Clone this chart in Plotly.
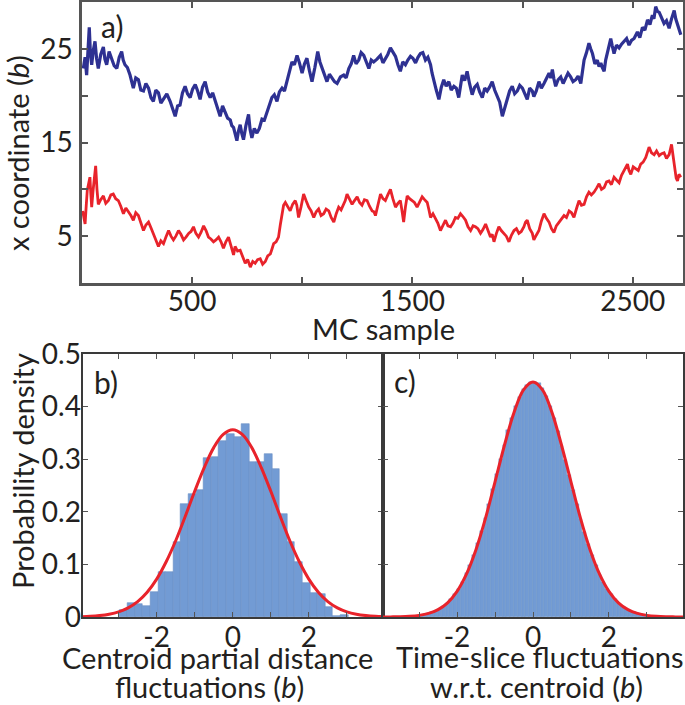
import plotly.graph_objects as go

# ---------------- data ----------------
# panel a: x coordinate of the two traced beads vs MC sample
blue_samples = [6, 14, 21, 27, 33, 38, 44, 51, 59, 66, 74, 85, 97, 104, 112, 123, 135, 146, 158, 169,
                180, 187, 195, 206, 218, 225, 233, 244, 256, 267, 279, 290, 302, 313, 324, 335, 347, 358, 370, 385,
                400, 411, 423, 434, 445, 456, 468, 479, 491, 502, 514, 525, 536, 547, 559, 570, 582, 593, 605, 616,
                627, 638, 650, 661, 673, 680, 688, 695, 703, 710, 718, 725, 733, 744, 756, 763, 771, 782, 794, 805,
                817, 828, 840, 851, 862, 873, 885, 896, 908, 919, 930, 941, 953, 964, 976, 987, 999, 1010, 1021, 1032,
                1044, 1057, 1070, 1080, 1090, 1101, 1112, 1123, 1135, 1146, 1158, 1173, 1188, 1199, 1211, 1222, 1233, 1244, 1256, 1267,
                1279, 1290, 1302, 1313, 1324, 1339, 1355, 1366, 1377, 1388, 1400, 1411, 1423, 1434, 1445, 1456, 1468, 1479, 1491, 1502,
                1514, 1525, 1536, 1547, 1559, 1570, 1582, 1589, 1597, 1608, 1620, 1631, 1642, 1653, 1665, 1676, 1688, 1699, 1710, 1718,
                1726, 1737, 1748, 1759, 1771, 1782, 1794, 1805, 1817, 1828, 1839, 1850, 1862, 1873, 1885, 1896, 1908, 1919, 1930, 1941,
                1953, 1964, 1976, 1987, 1999, 2010, 2021, 2032, 2044, 2051, 2062, 2074, 2085, 2097, 2108, 2120, 2128, 2135, 2142, 2150,
                2161, 2173, 2184, 2195, 2206, 2218, 2229, 2241, 2252, 2264, 2271, 2279, 2290, 2301, 2309, 2317, 2328, 2339, 2347, 2355,
                2362, 2370, 2377, 2385, 2392, 2400, 2407, 2415, 2426, 2438, 2449, 2461, 2472, 2483, 2494, 2506, 2513, 2521, 2532, 2544,
                2555, 2567, 2578, 2589, 2596, 2604, 2612, 2620, 2631, 2642, 2653, 2665, 2676, 2688, 2695, 2703, 2710, 2718]
blue_values = [22.9, 24.1, 22.2, 25.0, 27.3, 24.6, 23.3, 24.8, 25.8, 24.0, 22.9, 24.4, 25.2, 23.9, 23.3, 24.7, 24.0, 23.2, 22.9, 24.1,
               24.7, 23.8, 23.3, 23.0, 22.2, 21.4, 20.8, 21.9, 21.7, 20.6, 20.5, 21.3, 20.8, 19.8, 19.4, 20.6, 20.3, 19.2, 19.6, 20.2,
               19.4, 18.7, 17.8, 18.9, 19.0, 20.3, 21.0, 20.2, 19.8, 20.7, 21.2, 20.5, 19.6, 20.9, 21.5, 20.4, 19.8, 20.3, 19.4, 18.6,
               17.8, 18.9, 18.3, 17.6, 17.4, 16.8, 16.6, 16.0, 15.2, 16.2, 16.9, 16.0, 15.3, 16.8, 18.0, 16.4, 15.5, 16.5, 16.0, 16.5,
               17.5, 17.4, 18.3, 19.2, 19.8, 20.1, 19.4, 20.4, 20.8, 20.5, 21.5, 22.6, 23.6, 23.3, 24.3, 23.5, 22.4, 23.4, 24.0, 22.7,
               21.5, 23.0, 24.7, 23.6, 22.9, 22.4, 21.5, 22.3, 21.9, 21.5, 21.3, 22.0, 22.2, 21.9, 22.9, 23.4, 24.3, 23.4, 23.8, 24.6,
               24.3, 23.6, 22.9, 23.8, 23.6, 23.9, 24.3, 23.5, 23.9, 24.4, 25.1, 24.6, 24.2, 23.3, 22.6, 23.6, 23.3, 23.8, 24.2, 24.0,
               23.5, 24.1, 24.5, 24.6, 23.8, 24.1, 23.3, 22.4, 21.5, 20.6, 19.6, 20.9, 21.7, 21.0, 21.5, 20.6, 21.0, 20.8, 19.8, 21.2,
               22.2, 21.6, 22.6, 21.3, 20.1, 20.9, 21.2, 20.4, 19.8, 20.8, 20.5, 20.9, 21.5, 20.6, 19.8, 19.3, 17.8, 18.7, 19.4, 20.5,
               21.0, 20.2, 20.5, 21.1, 20.8, 20.1, 19.6, 20.8, 20.5, 19.9, 20.5, 21.5, 20.8, 21.3, 21.9, 22.4, 21.9, 22.8, 21.8, 21.0,
               21.7, 22.0, 21.3, 21.9, 22.4, 22.0, 21.5, 21.7, 22.1, 21.3, 22.4, 23.8, 24.6, 25.6, 25.0, 24.5, 23.4, 23.8, 23.1, 23.5,
               23.0, 22.6, 23.8, 24.7, 25.2, 26.1, 25.3, 24.5, 25.4, 25.1, 25.5, 25.8, 26.1, 25.4, 25.9, 26.1, 26.4, 26.8, 26.2, 27.3,
               27.0, 28.1, 27.6, 28.6, 28.2, 29.5, 29.0, 28.9, 28.3, 27.7, 28.0, 27.2, 28.2, 29.1, 28.2, 27.5, 27.0, 26.5]

red_samples = [3, 8, 14, 19, 24, 30, 36, 40, 44, 50, 55, 58, 62, 68, 74, 85, 97, 108, 120, 131,
               142, 153, 165, 176, 188, 199, 211, 222, 233, 244, 256, 267, 279, 290, 302, 313, 324, 335, 347, 358,
               370, 381, 393, 404, 415, 426, 438, 449, 461, 472, 484, 495, 506, 517, 529, 540, 552, 563, 574, 585,
               597, 608, 620, 631, 642, 653, 665, 676, 688, 695, 706, 718, 729, 741, 752, 764, 775, 786, 797, 809,
               820, 832, 843, 855, 862, 870, 881, 892, 900, 908, 915, 923, 934, 945, 956, 968, 975, 983, 994, 1006,
               1017, 1029, 1040, 1052, 1063, 1074, 1085, 1097, 1108, 1120, 1131, 1143, 1154, 1165, 1176, 1188, 1195, 1203, 1214, 1226,
               1237, 1249, 1260, 1271, 1282, 1294, 1305, 1317, 1325, 1332, 1343, 1355, 1366, 1377, 1388, 1400, 1411, 1423, 1434, 1445,
               1452, 1460, 1468, 1476, 1487, 1498, 1509, 1521, 1532, 1544, 1555, 1567, 1575, 1582, 1593, 1604, 1615, 1627, 1638, 1650,
               1661, 1673, 1684, 1695, 1706, 1718, 1729, 1741, 1752, 1764, 1775, 1786, 1797, 1809, 1820, 1832, 1843, 1854, 1862, 1870,
               1881, 1892, 1903, 1915, 1926, 1938, 1949, 1961, 1972, 1983, 1994, 2006, 2013, 2021, 2032, 2044, 2051, 2062, 2074, 2085,
               2097, 2108, 2120, 2131, 2142, 2153, 2165, 2176, 2188, 2199, 2211, 2222, 2233, 2244, 2256, 2267, 2279, 2290, 2301, 2312,
               2324, 2335, 2347, 2358, 2370, 2381, 2392, 2403, 2415, 2426, 2438, 2449, 2461, 2468, 2476, 2483, 2491, 2502, 2514, 2525,
               2536, 2547, 2559, 2566, 2574, 2585, 2597, 2608, 2620, 2631, 2642, 2653, 2665, 2670, 2676, 2684, 2691, 2697, 2703, 2710,
               2718]
red_values = [7.7, 7.0, 6.3, 8.2, 9.9, 10.6, 11.3, 9.5, 8.1, 9.8, 10.9, 11.8, 12.5, 10.0, 8.4, 8.9, 9.3, 8.5, 8.8, 9.4,
              9.5, 9.0, 8.8, 8.2, 7.4, 8.0, 7.6, 7.2, 6.7, 7.5, 7.2, 6.3, 5.6, 6.2, 6.5, 5.9, 5.3, 4.6, 3.9, 4.5,
              4.2, 4.9, 5.6, 5.0, 4.6, 5.0, 5.6, 5.2, 4.6, 4.9, 5.3, 5.5, 6.0, 5.3, 4.9, 5.4, 6.1, 5.6, 4.9, 4.7,
              4.4, 4.6, 4.9, 4.4, 3.7, 4.4, 4.9, 4.0, 3.0, 3.9, 3.4, 3.5, 2.8, 2.1, 2.5, 1.7, 2.3, 2.1, 2.5, 2.6,
              2.0, 2.3, 2.9, 3.1, 3.6, 4.2, 4.4, 4.9, 6.2, 7.4, 8.3, 8.6, 8.2, 7.7, 8.4, 8.8, 8.3, 7.0, 8.1, 9.5,
              8.8, 8.1, 7.7, 7.0, 7.6, 7.9, 7.2, 7.4, 7.9, 7.7, 7.0, 6.5, 7.4, 8.1, 7.8, 8.4, 8.8, 9.5, 8.9, 8.4,
              8.8, 9.2, 8.6, 8.3, 8.9, 8.8, 8.2, 7.7, 7.6, 7.2, 8.3, 9.5, 9.0, 8.8, 9.4, 10.0, 9.0, 8.1, 8.5, 8.8,
              7.8, 6.5, 8.1, 9.3, 9.0, 8.8, 8.6, 8.1, 8.7, 9.2, 8.9, 8.6, 7.8, 7.0, 7.4, 6.9, 6.4, 5.6, 6.2, 6.7,
              6.1, 6.0, 6.4, 7.0, 6.9, 7.4, 7.1, 6.7, 6.0, 5.6, 6.1, 6.0, 5.8, 5.3, 5.7, 6.3, 5.6, 4.9, 5.2, 4.4,
              5.3, 6.0, 5.6, 5.3, 5.0, 4.4, 5.1, 5.6, 5.8, 5.3, 5.5, 6.0, 6.5, 6.7, 5.8, 5.3, 4.6, 5.1, 5.6, 6.6,
              7.4, 6.9, 6.5, 5.8, 5.4, 6.1, 6.5, 6.8, 7.2, 7.0, 7.7, 7.5, 7.0, 7.9, 8.8, 8.3, 8.4, 9.2, 9.7, 9.4,
              9.7, 10.1, 10.6, 10.0, 10.2, 10.8, 10.9, 10.5, 11.3, 11.0, 10.7, 11.5, 12.0, 12.3, 12.7, 12.0, 11.6, 12.4, 12.2, 12.0,
              12.7, 12.9, 13.4, 13.9, 14.5, 13.9, 13.7, 14.1, 13.6, 13.8, 13.9, 13.3, 13.7, 14.2, 14.8, 13.4, 12.0, 11.2, 10.9, 11.6,
              11.3]

# panel b: centroid partial distance fluctuation histogram
b_centers = [-2.865, -2.665, -2.465, -2.265, -2.065, -1.865, -1.665, -1.465, -1.265, -1.065,
             -0.865, -0.665, -0.465, -0.265, -0.065, 0.135, 0.335, 0.535, 0.735, 0.935,
             1.135, 1.335, 1.535, 1.735, 1.935, 2.135, 2.335, 2.535, 2.735, 2.935]
b_density = [0.014, 0.026, 0.024, 0.021, 0.048, 0.085, 0.085, 0.142, 0.214, 0.234,
             0.241, 0.303, 0.305, 0.334, 0.348, 0.342, 0.367, 0.294, 0.294, 0.310,
             0.281, 0.196, 0.143, 0.104, 0.065, 0.045, 0.044, 0.019, 0.002, 0.004]
b_fit_x = [-4.0, -3.75, -3.5, -3.25, -3.0, -2.75, -2.5, -2.25, -2.0, -1.75, -1.5, -1.25, -1.0, -0.75, -0.5, -0.25, 0.0,
           0.25, 0.5, 0.75, 1.0, 1.25, 1.5, 1.75, 2.0, 2.25, 2.5, 2.75, 3.0, 3.25, 3.5, 3.75, 4.0]
b_fit_y = [0.0006, 0.0013, 0.0027, 0.0052, 0.0097, 0.0173, 0.0292, 0.047, 0.072, 0.105, 0.145, 0.191, 0.239, 0.284, 0.322, 0.347, 0.356,
           0.347, 0.322, 0.284, 0.239, 0.191, 0.145, 0.105, 0.072, 0.047, 0.0292, 0.0173, 0.0097, 0.0052, 0.0027, 0.0013, 0.0006]

# panel c: time-slice fluctuation histogram
c_centers = [-3.45, -3.35, -3.25, -3.15, -3.05, -2.95, -2.85, -2.75, -2.65, -2.55,
             -2.45, -2.35, -2.25, -2.15, -2.05, -1.95, -1.85, -1.75, -1.65, -1.55,
             -1.45, -1.35, -1.25, -1.15, -1.05, -0.95, -0.85, -0.75, -0.65, -0.55,
             -0.45, -0.35, -0.25, -0.15, -0.05, 0.05, 0.15, 0.25, 0.35, 0.45,
             0.55, 0.65, 0.75, 0.85, 0.95, 1.05, 1.15, 1.25, 1.35, 1.45,
             1.55, 1.65, 1.75, 1.85, 1.95, 2.05, 2.15, 2.25, 2.35, 2.45,
             2.55, 2.65, 2.75, 2.85, 2.95, 3.05, 3.15, 3.25, 3.35, 3.45]
c_density = [0.0006, 0.0009, 0.0013, 0.0018, 0.0026, 0.0036, 0.0050, 0.0068, 0.0091, 0.0122,
             0.016, 0.021, 0.027, 0.0345, 0.0436, 0.054, 0.067, 0.083, 0.099, 0.118,
             0.140, 0.163, 0.189, 0.215, 0.244, 0.271, 0.301, 0.327, 0.355, 0.378,
             0.401, 0.418, 0.433, 0.441, 0.446, 0.447, 0.444, 0.435, 0.421, 0.401,
             0.379, 0.353, 0.326, 0.299, 0.270, 0.242, 0.214, 0.187, 0.162, 0.139,
             0.117, 0.098, 0.081, 0.066, 0.054, 0.043, 0.034, 0.027, 0.021, 0.016,
             0.012, 0.0091, 0.0068, 0.005, 0.0036, 0.0026, 0.0018, 0.0013, 0.0009, 0.0006]
c_fit_x = [-4.0, -3.75, -3.5, -3.25, -3.0, -2.75, -2.5, -2.25, -2.0, -1.75, -1.5, -1.25, -1.0, -0.75, -0.5, -0.25, 0.0,
           0.25, 0.5, 0.75, 1.0, 1.25, 1.5, 1.75, 2.0, 2.25, 2.5, 2.75, 3.0, 3.25, 3.5, 3.75, 4.0]
c_fit_y = [0.0001, 0.0002, 0.0005, 0.0013, 0.0031, 0.0068, 0.014, 0.027, 0.0488, 0.082, 0.1285, 0.188, 0.257, 0.327, 0.389, 0.432, 0.447,
           0.432, 0.389, 0.327, 0.257, 0.188, 0.1285, 0.082, 0.0488, 0.027, 0.014, 0.0068, 0.0031, 0.0013, 0.0005, 0.0002, 0.0001]

a_xticks = [500, 1000, 1500, 2000, 2500]
a_xlabels = ["500", "", "1500", "", "2500"]
a_yticks = [5, 10, 15, 20, 25]
a_ylabels = ["5", "", "15", "", "25"]
h_xticks = [-3, -2, -1, 0, 1, 2, 3]
h_xlabels = ["", "-2", "", "0", "", "2", ""]
h_yticks = [0, 0.1, 0.2, 0.3, 0.4, 0.5]
h_ylabels = ["0", "0.1", "0.2", "0.3", "0.4", "0.5"]

# ---------------- styling ----------------
W, H = 685, 705
FONT = "Lato"
TXT = "#231f20"
BLUE = "#2E3192"
RED = "#E8232B"
BAR = "#729BD4"
FS = 28
TS = 29


def fx(px):
    return px / W


def fy(py):
    return 1 - py / H


fig = go.Figure()

fig.add_trace(go.Scatter(x=blue_samples, y=blue_values, mode="lines",
                         line=dict(color=BLUE, width=3.2), xaxis="x", yaxis="y", showlegend=False))
fig.add_trace(go.Scatter(x=red_samples, y=red_values, mode="lines",
                         line=dict(color=RED, width=2.8), xaxis="x", yaxis="y", showlegend=False))

fig.add_trace(go.Bar(x=b_centers, y=b_density, width=0.2,
                     marker=dict(color=BAR, line=dict(color="#6a8fc6", width=0.6)),
                     xaxis="x2", yaxis="y2", showlegend=False))
fig.add_trace(go.Scatter(x=b_fit_x, y=b_fit_y, mode="lines", line=dict(color=RED, width=3, shape="spline"),
                         xaxis="x2", yaxis="y2", showlegend=False))

fig.add_trace(go.Bar(x=c_centers, y=c_density, width=0.1,
                     marker=dict(color=BAR, line=dict(color="#6a8fc6", width=0.4)),
                     xaxis="x3", yaxis="y3", showlegend=False))
fig.add_trace(go.Scatter(x=c_fit_x, y=c_fit_y, mode="lines", line=dict(color=RED, width=3, shape="spline"),
                         xaxis="x3", yaxis="y3", showlegend=False))

tickfont = dict(family=FONT, size=FS, color=TXT)
frame_top = dict(showline=True, linecolor="#555555", linewidth=2.5, mirror="allticks", ticks="inside",
                 ticklen=6, tickwidth=2, tickcolor="#555555", showgrid=False, zeroline=False,
                 tickfont=tickfont, automargin=False)
frame_bot = dict(showline=True, linecolor="#3a3a3a", linewidth=2, mirror="allticks", ticks="inside",
                 ticklen=5, tickwidth=1.2, tickcolor="#555555", showgrid=False, zeroline=False,
                 tickfont=tickfont, automargin=False)

fig.update_layout(
    width=W, height=H, margin=dict(l=0, r=0, t=0, b=0, pad=0, autoexpand=False),
    paper_bgcolor="white", plot_bgcolor="white", bargap=0,
    font=dict(family=FONT, size=FS, color=TXT),
    xaxis=dict(domain=[fx(82), fx(683)], range=[0, 2728], anchor="y", tickmode="array",
               tickvals=a_xticks, ticktext=a_xlabels, ticklabelstandoff=-8, **frame_top),
    yaxis=dict(domain=[fy(283), fy(2)], range=[0, 30], anchor="x", tickmode="array",
               tickvals=a_yticks, ticktext=a_ylabels, ticklabelstandoff=1, **frame_top),
    xaxis2=dict(domain=[fx(82.5), fx(383)], range=[-3.95, 3.95], anchor="y2", tickmode="array",
                tickvals=h_xticks, ticktext=h_xlabels, ticklabelstandoff=-6, **frame_bot),
    yaxis2=dict(domain=[fy(617), fy(354)], range=[0, 0.5], anchor="x2", tickmode="array",
                tickvals=h_yticks, ticktext=h_ylabels, ticklabelstandoff=-6, **frame_bot),
    xaxis3=dict(domain=[fx(383), fx(683)], range=[-3.95, 3.95], anchor="y3", tickmode="array",
                tickvals=h_xticks, ticktext=h_xlabels, ticklabelstandoff=-6, **frame_bot),
    yaxis3=dict(domain=[fy(617), fy(354)], range=[0, 0.5], anchor="x3", tickmode="array",
                tickvals=h_yticks, showticklabels=False, **frame_bot),
)


def note(text, x, y, size=TS, angle=0, xanchor="center", yanchor="middle"):
    fig.add_annotation(text=text, x=fx(x), y=fy(y), xref="paper", yref="paper", showarrow=False,
                       textangle=angle, xanchor=xanchor, yanchor=yanchor, borderpad=0,
                       font=dict(family=FONT, size=size, color=TXT))


note("a)", 100, 26, size=30, xanchor="left")
note("b)", 93, 382, size=30, xanchor="left")
note("c)", 393, 381, size=30, xanchor="left")
note("MC sample", 383, 328)
note("x coordinate (<i>b</i>)", 17, 153, angle=-90)
note("Probability density", 22, 471, angle=-90)
note("Centroid partial distance", 217, 657)
note("fluctuations (<i>b</i>)", 209, 705, yanchor="bottom")
note("Time-slice fluctuations", 540, 656)
note("w.r.t. centroid (<i>b</i>)", 536, 705, yanchor="bottom")

# the browser's default 8px body margin would shift the figure; remove it
fig.write_html("out.html", config={"displayModeBar": False},
               post_script="document.body.style.margin='0px';")
